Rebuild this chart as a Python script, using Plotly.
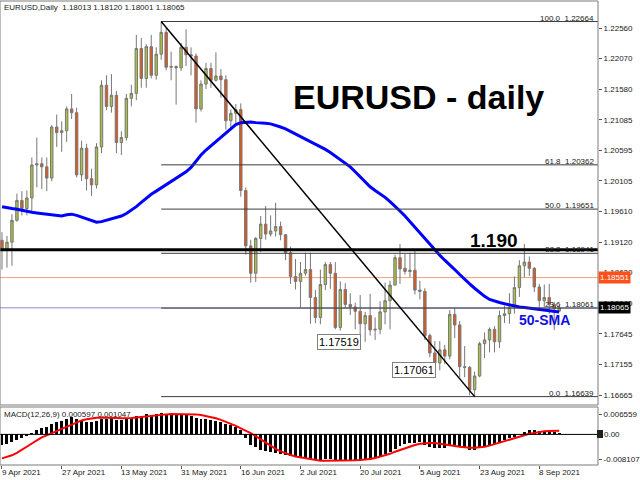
import plotly.graph_objects as go

# ---------------- data ----------------
x_label_text = ["9 Apr 2021", "27 Apr 2021", "13 May 2021", "31 May 2021", "16 Jun 2021",
                "2 Jul 2021", "20 Jul 2021", "5 Aug 2021", "23 Aug 2021", "8 Sep 2021"]
x_label_bar = [0, 12, 24, 36, 48, 60, 72, 84, 96, 108]

opens = [1.1915, 1.1900, 1.1912, 1.1947, 1.1979, 1.1966, 1.1983, 1.2036, 1.2038, 1.2033,
         1.2015, 1.2097, 1.2088, 1.2091, 1.2126, 1.2120, 1.2020, 1.2063, 1.2014, 1.2004,
         1.2065, 1.2164, 1.2130, 1.2148, 1.2072, 1.2080, 1.2143, 1.2151, 1.2223, 1.2175,
         1.2226, 1.2180, 1.2214, 1.2249, 1.2193, 1.2194, 1.2192, 1.2225, 1.2213, 1.2211,
         1.2126, 1.2166, 1.2191, 1.2172, 1.2179, 1.2173, 1.2107, 1.2119, 1.2125, 1.1995,
         1.1906, 1.1862, 1.1918, 1.1941, 1.1925, 1.1930, 1.1937, 1.1924, 1.1895, 1.1857,
         1.1849, 1.1862, 1.1868, 1.1823, 1.1791, 1.1844, 1.1876, 1.1862, 1.1775, 1.1836,
         1.1812, 1.1808, 1.1801, 1.1781, 1.1794, 1.1771, 1.1772, 1.1800, 1.1818, 1.1843,
         1.1887, 1.1870, 1.1867, 1.1867, 1.1835, 1.1833, 1.1762, 1.1734, 1.1718, 1.1739,
         1.1729, 1.1796, 1.1779, 1.1712, 1.1711, 1.1675, 1.1697, 1.1749, 1.1755, 1.1772,
         1.1752, 1.1794, 1.1797, 1.1808, 1.1839, 1.1874, 1.1880, 1.1870, 1.1840, 1.1818,
         1.1823, 1.1812, 1.18013]
highs = [1.1928, 1.1922, 1.1957, 1.1990, 1.1994, 1.1995, 1.2048, 1.2080, 1.2048, 1.2048,
         1.2100, 1.2117, 1.2106, 1.2130, 1.2150, 1.2128, 1.2075, 1.2070, 1.2030, 1.2071,
         1.2172, 1.2180, 1.2182, 1.2155, 1.2090, 1.2150, 1.2165, 1.2245, 1.2240, 1.2230,
         1.2245, 1.2225, 1.22664, 1.2255, 1.2218, 1.2196, 1.2232, 1.2254, 1.2225, 1.2215,
         1.2172, 1.2200, 1.2200, 1.2217, 1.2190, 1.2180, 1.2125, 1.2134, 1.2135, 1.2000,
         1.1916, 1.1920, 1.1954, 1.1970, 1.1955, 1.1975, 1.1945, 1.1925, 1.1905, 1.1885,
         1.1880, 1.1895, 1.1895, 1.1835, 1.1868, 1.1880, 1.1880, 1.1880, 1.1849, 1.1846,
         1.1830, 1.1815, 1.1827, 1.1800, 1.1829, 1.1791, 1.1817, 1.1847, 1.1850, 1.1892,
         1.1909, 1.1893, 1.1895, 1.1900, 1.1850, 1.1838, 1.1765, 1.1753, 1.1753, 1.1747,
         1.1803, 1.1806, 1.1785, 1.1745, 1.1713, 1.1704, 1.1752, 1.1767, 1.1775, 1.1777,
         1.1802, 1.1810, 1.1830, 1.1857, 1.1883, 1.1909, 1.1889, 1.1872, 1.1845, 1.1844,
         1.1845, 1.1816, 1.18120]
lows = [1.1868, 1.1871, 1.1874, 1.1945, 1.1955, 1.1955, 1.1960, 1.2000, 1.1997, 1.1994,
        1.2010, 1.2065, 1.2057, 1.2073, 1.2110, 1.2016, 1.2010, 1.1995, 1.1986, 1.1998,
        1.2055, 1.2124, 1.2120, 1.2055, 1.2052, 1.2075, 1.2130, 1.2140, 1.2160, 1.2160,
        1.2175, 1.2173, 1.2205, 1.2188, 1.2172, 1.2133, 1.2187, 1.2195, 1.2180, 1.2104,
        1.2122, 1.2158, 1.2160, 1.2170, 1.2144, 1.2093, 1.2093, 1.2100, 1.1985, 1.1892,
        1.1847, 1.1848, 1.1896, 1.1916, 1.1921, 1.1921, 1.1915, 1.1883, 1.1845, 1.1836,
        1.1807, 1.1858, 1.1781, 1.1782, 1.1780, 1.1835, 1.1837, 1.1772, 1.1770, 1.1806,
        1.1795, 1.1772, 1.1756, 1.17519, 1.1762, 1.1755, 1.1764, 1.1780, 1.1772, 1.1843,
        1.1845, 1.1860, 1.1856, 1.1828, 1.1820, 1.1755, 1.1727, 1.1708, 1.17061, 1.1716,
        1.1724, 1.1758, 1.1695, 1.1695, 1.1666, 1.16639, 1.1695, 1.1726, 1.1735, 1.1735,
        1.1742, 1.1782, 1.1781, 1.1797, 1.1824, 1.1855, 1.1858, 1.1832, 1.1802, 1.1808,
        1.1797, 1.1771, 1.18001]
closes = [1.1900, 1.1912, 1.1947, 1.1979, 1.1966, 1.1983, 1.2036, 1.2038, 1.2033, 1.2015,
          1.2097, 1.2088, 1.2091, 1.2126, 1.2120, 1.2020, 1.2063, 1.2014, 1.2004, 1.2065,
          1.2164, 1.2130, 1.2148, 1.2072, 1.2080, 1.2143, 1.2151, 1.2223, 1.2175, 1.2226,
          1.2180, 1.2214, 1.2249, 1.2193, 1.2194, 1.2192, 1.2225, 1.2213, 1.2211, 1.2126,
          1.2166, 1.2191, 1.2172, 1.2179, 1.2173, 1.2107, 1.2119, 1.2125, 1.1995, 1.1906,
          1.1862, 1.1918, 1.1941, 1.1925, 1.1930, 1.1937, 1.1924, 1.1895, 1.1857, 1.1849,
          1.1862, 1.1868, 1.1823, 1.1791, 1.1844, 1.1876, 1.1862, 1.1775, 1.1836, 1.1812,
          1.1808, 1.1801, 1.1781, 1.1794, 1.1771, 1.1772, 1.1800, 1.1818, 1.1843, 1.1887,
          1.1869, 1.1865, 1.1865, 1.1835, 1.1833, 1.1762, 1.1734, 1.1718, 1.1739, 1.1729,
          1.1796, 1.1779, 1.1712, 1.1711, 1.1675, 1.1697, 1.1749, 1.1755, 1.1772, 1.1752,
          1.1794, 1.1797, 1.1808, 1.1839, 1.1874, 1.1880, 1.1870, 1.1840, 1.1818, 1.1823,
          1.1812, 1.1805, 1.18065]

sma50 = [1.1969, 1.1967, 1.1966, 1.1965, 1.1963, 1.1961, 1.1960, 1.1959, 1.1958, 1.1957,
         1.1956, 1.1955, 1.1954, 1.1956, 1.1957, 1.1955, 1.1952, 1.1949, 1.1946, 1.1944,
         1.1945, 1.1947, 1.1949, 1.1951, 1.1954, 1.1958, 1.1963, 1.1969, 1.1976, 1.1983,
         1.1989, 1.1994, 1.1999, 1.2004, 1.2009, 1.2014, 1.2019, 1.2025, 1.2032, 1.2042,
         1.2052, 1.2060, 1.2067, 1.2073, 1.2080, 1.2088, 1.2095, 1.2101, 1.2104, 1.2105,
         1.2105, 1.2104, 1.2104, 1.2103, 1.2102, 1.2100, 1.2097, 1.2094, 1.2090, 1.2086,
         1.2082, 1.2078, 1.2074, 1.2070, 1.2066, 1.2061, 1.2056, 1.2050, 1.2045, 1.2039,
         1.2033, 1.2025, 1.2017, 1.2009, 1.2001, 1.1995, 1.1990, 1.1984, 1.1977, 1.1970,
         1.1962, 1.1954, 1.1945, 1.1935, 1.1926, 1.1917, 1.1908, 1.1899, 1.1891, 1.1883,
         1.1876, 1.1868, 1.1860, 1.1852, 1.1845, 1.1838, 1.1831, 1.1825, 1.1820, 1.1817,
         1.1815, 1.1813, 1.1811, 1.1809, 1.1808, 1.1807, 1.1806, 1.1805, 1.1804, 1.1803,
         1.1802, 1.1801, 1.1800]

macd = [-0.0036, -0.0032, -0.0024, -0.0018, -0.0012, -0.0004, 0.0006, 0.0014, 0.0020, 0.0024,
        0.0034, 0.0040, 0.0045, 0.0052, 0.0056, 0.0050, 0.0047, 0.0042, 0.0040, 0.0043,
        0.0050, 0.0052, 0.0053, 0.0049, 0.0049, 0.0051, 0.0053, 0.0060, 0.0062, 0.0066,
        0.0064, 0.0066, 0.0071, 0.0068, 0.0066, 0.0063, 0.0064, 0.0065, 0.0062, 0.0055,
        0.0051, 0.0050, 0.0047, 0.0044, 0.0042, 0.0035, 0.0030, 0.0026, 0.0013, -0.0012,
        -0.0035, -0.0043, -0.0050, -0.0055, -0.0058, -0.0060, -0.0063, -0.0067, -0.0072, -0.0076,
        -0.0078, -0.0079, -0.0082, -0.0086, -0.0084, -0.0080, -0.0081, -0.0087, -0.0085, -0.0085,
        -0.0085, -0.0084, -0.0084, -0.0082, -0.0080, -0.0078, -0.0073, -0.0066, -0.0059, -0.0048,
        -0.0039, -0.0033, -0.0028, -0.0027, -0.0026, -0.0034, -0.0040, -0.0045, -0.0045, -0.0046,
        -0.0037, -0.0035, -0.0042, -0.0046, -0.0051, -0.0050, -0.0045, -0.0040, -0.0036, -0.0030,
        -0.0024, -0.0018, -0.0013, -0.0007, 0.0001, 0.0009, 0.0013, 0.0013, 0.0012, 0.0011,
        0.0009, 0.0007, 0.0006]
signal = [-0.0079, -0.0074, -0.0069, -0.0061, -0.0050, -0.0040, -0.0030, -0.0020, -0.0010, -0.0003,
          0.0004, 0.0012, 0.0020, 0.0027, 0.0033, 0.0040, 0.0046, 0.0050, 0.0053, 0.0055,
          0.0056, 0.0056, 0.0055, 0.0054, 0.0053, 0.0053, 0.0054, 0.0056, 0.0058, 0.0060,
          0.0062, 0.0064, 0.0065, 0.0066, 0.0067, 0.0067, 0.0067, 0.0067, 0.0067, 0.0066,
          0.0064, 0.0061, 0.0058, 0.0053, 0.0048, 0.0042, 0.0036, 0.0028, 0.0020, 0.0013,
          0.0004, -0.0006, -0.0017, -0.0028, -0.0038, -0.0048, -0.0056, -0.0063, -0.0068, -0.0073,
          -0.0076, -0.0079, -0.0082, -0.0085, -0.0087, -0.0087, -0.0087, -0.0087, -0.0087, -0.0086,
          -0.0086, -0.0085, -0.0084, -0.0083, -0.0081, -0.0078, -0.0074, -0.0070, -0.0064, -0.0057,
          -0.0051, -0.0046, -0.0040, -0.0035, -0.0031, -0.0029, -0.0028, -0.0028, -0.0030, -0.0032,
          -0.0035, -0.0038, -0.0041, -0.0043, -0.0044, -0.0044, -0.0043, -0.0041, -0.0037, -0.0032,
          -0.0028, -0.0023, -0.0018, -0.0013, -0.0008, -0.0003, 0.0002, 0.0005, 0.0008, 0.0010,
          0.0011, 0.0012, 0.0012]

fib_level = ["100.0", "61.8", "50.0", "38.2", "23.6", "0.0"]
fib_price = [1.22664, 1.20362, 1.19651, 1.18941, 1.18061, 1.16639]
fib_start_bar = 32
trend_bars = [32, 95]
trend_prices = [1.22664, 1.16639]
level_1190 = 1.1900
bid_price = 1.18065
ask_line_price = 1.18551
low_labels_bar = [73, 88]
low_labels_price = [1.17519, 1.17061]

price_ticks = [1.22560, 1.22070, 1.21580, 1.21085, 1.20595, 1.20105, 1.19610, 1.19120,
               1.18630, 1.18140, 1.17645, 1.17155, 1.16665]
macd_ticks = [0.006559, -0.008107]
macd_tick_text = ["0.006559", "-0.008107"]

# ---------------- layout helpers ----------------
W, H = 640, 480
ML, MR, MT, MB = 0, 39, 1, 15
PW = W - ML - MR          # 601
PH = H - MT - MB          # 464
BOT = MT + PH             # 465


def pxx(px):
    return px / PW


def pyy(py):
    return (BOT - py) / PH


FONT = "Liberation Sans, Arial, sans-serif"
idx = list(range(len(closes)))

fig = go.Figure()
fig.add_trace(go.Candlestick(
    x=idx, open=opens, high=highs, low=lows, close=closes,
    increasing=dict(fillcolor="#a9c23c", line=dict(color="#777777", width=1)),
    decreasing=dict(fillcolor="#e2561c", line=dict(color="#777777", width=1)),
    whiskerwidth=0, hoverinfo="skip", xaxis="x", yaxis="y"))
fig.add_trace(go.Scatter(x=idx, y=sma50, mode="lines",
                         line=dict(color="#0000ff", width=3), hoverinfo="skip",
                         xaxis="x", yaxis="y"))
fig.add_trace(go.Bar(x=idx, y=macd, width=0.6, marker=dict(color="black", line=dict(width=0)),
                     hoverinfo="skip", xaxis="x", yaxis="y2"))
fig.add_trace(go.Scatter(x=idx, y=signal, mode="lines", line=dict(color="#ff0000", width=2),
                         hoverinfo="skip", xaxis="x", yaxis="y2"))

main_bot_px, macd_top_px = 405, 407
y_main_lo = 1.22560 - (main_bot_px - 28) / 6225.6
y_main_hi = 1.22560 + (28 - MT) / 6225.6
m_scale = 3034.0
zero_px = 434.4
y2_hi = (zero_px - macd_top_px) / m_scale
y2_lo = (zero_px - BOT) / m_scale

shapes = []
shapes.append(dict(type="line", xref="paper", yref="y", x0=0, x1=1, y0=ask_line_price,
                   y1=ask_line_price, line=dict(color="#f7a07e", width=1), layer="below"))
shapes.append(dict(type="line", xref="paper", yref="y", x0=0, x1=1, y0=bid_price,
                   y1=bid_price, line=dict(color="#8a8ad0", width=1), layer="below"))
for p in fib_price:
    shapes.append(dict(type="line", xref="x", yref="y", x0=fib_start_bar, x1=119.8, y0=p, y1=p,
                       line=dict(color="#3c3c3c", width=1)))
shapes.append(dict(type="line", xref="paper", yref="y", x0=0, x1=1, y0=level_1190,
                   y1=level_1190, line=dict(color="black", width=3)))
shapes.append(dict(type="line", xref="x", yref="y", x0=trend_bars[0], x1=trend_bars[1],
                   y0=trend_prices[0], y1=trend_prices[1], line=dict(color="black", width=1.5)))
shapes.append(dict(type="line", xref="paper", yref="y2", x0=0, x1=1, y0=0, y1=0,
                   line=dict(color="black", width=1)))
shapes.append(dict(type="rect", xref="paper", yref="paper", x0=0, x1=1,
                   y0=pyy(main_bot_px), y1=pyy(MT), line=dict(color="#7a7a7a", width=1)))
shapes.append(dict(type="rect", xref="paper", yref="paper", x0=0, x1=1,
                   y0=pyy(BOT), y1=pyy(macd_top_px), line=dict(color="#7a7a7a", width=1)))
shapes.append(dict(type="rect", xref="paper", yref="paper", x0=pxx(600), x1=pxx(606),
                   y0=pyy(438), y1=pyy(430), fillcolor="#202020", line=dict(width=0)))

ann = []
small = dict(family=FONT, size=8, color="#202020")
ann.append(dict(text="EURUSD,Daily  1.18013 1.18120 1.18001 1.18065", xref="paper", yref="paper",
                x=pxx(2), y=pyy(1), xanchor="left", yanchor="top", showarrow=False, font=small))
ann.append(dict(text="MACD(12,26,9) 0.000597 0.001047", xref="paper", yref="paper",
                x=pxx(2), y=pyy(408), xanchor="left", yanchor="top", showarrow=False, font=small))
ann.append(dict(text="<b>EURUSD - daily</b>", xref="paper", yref="paper", x=pxx(421), y=pyy(97),
                xanchor="center", yanchor="middle", showarrow=False,
                font=dict(family=FONT, size=34, color="black")))
ann.append(dict(text="<b>1.190</b>", xref="paper", yref="paper", x=pxx(496), y=pyy(240),
                xanchor="center", yanchor="middle", showarrow=False,
                font=dict(family=FONT, size=19, color="black")))
ann.append(dict(text="<b>50-SMA</b>", xref="paper", yref="paper", x=pxx(547), y=pyy(320),
                xanchor="center", yanchor="middle", showarrow=False,
                font=dict(family=FONT, size=14, color="#1010e0")))
for lv, p in zip(fib_level, fib_price):
    ann.append(dict(text=lv + "\u00a0\u00a0" + "%.5f" % p, xref="paper", yref="y", x=pxx(599), y=p,
                    xanchor="right", yanchor="bottom", yshift=-3, showarrow=False, font=small))
for b, p in zip(low_labels_bar, low_labels_price):
    ann.append(dict(text="%.5f" % p, xref="x", yref="y", x=b, y=p, xanchor="right",
                    yanchor="middle", xshift=-4, showarrow=False, bgcolor="white",
                    bordercolor="#808080", borderwidth=1, borderpad=1,
                    font=dict(family=FONT, size=11, color="black")))
ann.append(dict(text="1.18551", xref="paper", yref="y", x=pxx(601), y=ask_line_price,
                xanchor="left", yanchor="middle", showarrow=False, bgcolor="#ff4f1a",
                borderpad=1, font=dict(family=FONT, size=8, color="white")))
ann.append(dict(text="1.18065", xref="paper", yref="y", x=pxx(601), y=bid_price,
                xanchor="left", yanchor="middle", showarrow=False, bgcolor="black",
                borderpad=1, font=dict(family=FONT, size=8, color="white")))
ann.append(dict(text="0.00", xref="paper", yref="y2", x=pxx(605), y=0,
                xanchor="left", yanchor="middle", showarrow=False, font=small))
for b, t in zip(x_label_bar, x_label_text):
    ann.append(dict(text=t, xref="x", yref="paper", x=b, y=pyy(BOT + 1), xanchor="left",
                    yanchor="top", xshift=-2, showarrow=False, font=small))

fig.update_layout(
    width=W, height=H, margin=dict(l=ML, r=MR, t=MT, b=MB, pad=0),
    paper_bgcolor="white", plot_bgcolor="white", showlegend=False, hovermode=False,
    dragmode=False, bargap=0,
    xaxis=dict(range=[-0.4, 119.8], domain=[0, 1], anchor="y2", showgrid=False, zeroline=False,
               showline=False, tickvals=x_label_bar, ticks="outside", ticklen=3,
               tickcolor="#555555", showticklabels=False, rangeslider=dict(visible=False),
               fixedrange=True),
    yaxis=dict(domain=[pyy(main_bot_px), 1], range=[y_main_lo, y_main_hi], side="right",
               anchor="x", showgrid=False, zeroline=False, showline=False, fixedrange=True,
               tickvals=price_ticks, ticktext=["%.5f" % v for v in price_ticks],
               ticks="outside", ticklen=3, tickcolor="#555555",
               tickfont=dict(family=FONT, size=8, color="#202020")),
    yaxis2=dict(domain=[0, pyy(macd_top_px)], range=[y2_lo, y2_hi], side="right",
                anchor="x", showgrid=False, zeroline=False, showline=False, fixedrange=True,
                tickvals=macd_ticks, ticktext=macd_tick_text, ticks="outside", ticklen=3,
                tickcolor="#555555", tickfont=dict(family=FONT, size=8, color="#202020")),
    shapes=shapes, annotations=ann,
)

fig.write_html("out.html", config={"displayModeBar": False, "staticPlot": True},
               post_script="document.body.style.margin='0';document.body.style.padding='0';")
